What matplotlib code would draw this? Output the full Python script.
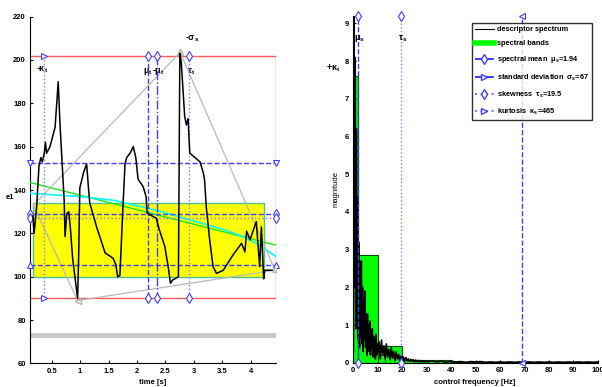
import numpy as np
import matplotlib.pyplot as plt
from matplotlib.patches import Rectangle
from matplotlib.lines import Line2D

plt.rcParams['font.family'] = ['Liberation Sans', 'DejaVu Sans']
plt.rcParams['font.weight'] = 'bold'
plt.rcParams['mathtext.default'] = 'regular'

# control signal (time [s], value)
sig_t = [0.17, 0.19, 0.235, 0.276, 0.31, 0.335, 0.37, 0.39, 0.41, 0.47, 0.56, 0.615,
         0.645, 0.72, 0.735, 0.765, 0.80, 0.83, 0.87, 0.956, 0.975, 0.995, 1.06, 1.115,
         1.15, 1.17, 1.29, 1.44, 1.58, 1.63, 1.66, 1.70, 1.75, 1.79, 1.82, 1.88, 1.935,
         1.98, 2.02, 2.11, 2.16, 2.18, 2.29, 2.34, 2.39, 2.49, 2.55, 2.59, 2.63, 2.70,
         2.73, 2.755, 2.78, 2.84, 2.87, 2.90, 2.93, 3.02, 3.11, 3.17, 3.19, 3.22, 3.28,
         3.34, 3.40, 3.52, 3.69, 3.84, 3.90, 3.93, 3.99, 4.05, 4.10, 4.13, 4.16, 4.19,
         4.23, 4.25, 4.43]
sig_v = [128, 120, 132, 151, 155, 153, 157, 162, 157, 160, 169, 190,
         171, 135, 118.5, 129, 130, 122, 108, 90, 110, 141, 148, 152,
         140, 134, 123, 111, 108.5, 105.5, 100, 100.5, 130, 152, 155, 157, 160,
         155, 145, 141.5, 137, 129.3, 127.7, 127, 122, 114, 104.6, 97, 98.5, 99.5,
         100, 203, 199, 174, 170, 173, 157, 155, 153, 147.7, 144.6, 132.3, 117,
         104.6, 101.5, 103, 110, 115.4, 111.5, 121, 117, 121.6, 125.4, 115, 104.6, 123,
         99, 103, 103]

# envelope (gray) and fitted trends
env_t = [0.18, 2.76, 4.43, 0.956, 0.18]
env_v = [133, 203.5, 103, 89, 133]
lin_t = [0.118, 4.44]
lin_v = [143.5, 114.6]
quad_t = [0.118, 1.0, 1.6, 2.36, 2.93, 3.5, 3.87, 4.10, 4.44]
quad_v = [138.5, 137, 135.2, 130.5, 126.2, 122, 118.5, 115.4, 109.5]

# temporal moments
kappa_t = 0.37
mu_t = 2.20
sigma_t = 2.36
tau_t = 2.92
h_upper = 152.5
h_mean = 128.8
h_mean2 = 127.0
h_lower = 105.3

# descriptor spectrum (magnitude) on three frequency grids
spec_a = [0.3, 9.2, 2.0, 8.1, 0.9, 6.2, 1.5, 4.4, 0.6, 3.2, 0.4, 2.2, 0.7, 2.7, 0.5, 2.0,
          0.3, 1.6, 0.6, 1.9, 0.4, 1.2, 0.2, 1.3, 0.5, 1.0, 0.3, 1.1, 0.2, 0.8, 0.4, 0.9,
          0.15, 0.7, 0.3, 0.6, 0.1, 0.75, 0.2, 0.5, 0.3]          # 0..10 Hz, 0.25 Hz
spec_b = [0.55, 0.1, 0.6, 0.2, 0.45, 0.1, 0.5, 0.15, 0.35, 0.08, 0.4, 0.12, 0.3, 0.05,
          0.28, 0.1, 0.22, 0.06, 0.18, 0.05, 0.15, 0.04, 0.14, 0.05, 0.1, 0.03, 0.09,
          0.04, 0.08, 0.02, 0.07, 0.03, 0.06, 0.02, 0.06, 0.02, 0.05, 0.02, 0.05, 0.02]  # 10.5..30 Hz
spec_c = [0.05, 0.02, 0.04, 0.01, 0.04, 0.02, 0.03, 0.01, 0.03, 0.02, 0.03, 0.01, 0.02,
          0.01, 0.02, 0.01, 0.02, 0.01, 0.02, 0.01, 0.02, 0.01, 0.02, 0.01, 0.02, 0.01,
          0.02, 0.01, 0.02, 0.01, 0.02, 0.01, 0.02, 0.01, 0.02]     # 32..100 Hz
freq = np.concatenate([np.arange(0, 10.01, 0.25), np.arange(10.5, 30.01, 0.5),
                       np.arange(32, 100.01, 2)])
spec = np.array(spec_a + spec_b + spec_c)

band_lo = [0, 2, 10, 13, 20, 40]
band_hi = [2, 10, 13, 20, 40, 100]
band_mag = [7.6, 2.87, 0.2, 0.45, 0.08, 0.03]

mu_s = 1.94
sigma_s = 69
tau_s = 19.5

blue = (0.25, 0.25, 1.0)
lblue = (0.5, 0.5, 1.0)
red = (1.0, 0.35, 0.35)
fs = 5.5

fig = plt.figure(figsize=(6.02, 3.87), dpi=100)
ax1 = fig.add_axes([0.0498, 0.061, 0.408, 0.896])
ax2 = fig.add_axes([0.587, 0.0628, 0.406, 0.896])

# ---- left panel ----
x0, x1 = 0.118, 4.44
ax1.add_patch(Rectangle((0.176, 100), 4.24 - 0.176, 134 - 100, facecolor='yellow',
                        edgecolor=(0.3, 0.75, 0.6), lw=1, zorder=1))
ax1.plot([x0, x1], [73, 73], color=(0.78, 0.78, 0.78), lw=3.5, zorder=1)
ax1.plot([x0, x1, x1, x0], [202, 202, 90.3, 90.3], color=red, lw=1, zorder=2)

ax1.plot(lin_t, lin_v, color=(0.1, 0.9, 0.1), lw=1, zorder=3)
ax1.plot(quad_t, quad_v, color='cyan', lw=1.2, zorder=3)
ax1.plot(env_t, env_v, color=(0.72, 0.72, 0.72), lw=0.9, zorder=3)
ax1.plot([2.76], [203.5], '^', ms=4, mfc='none', mec=(0.7, 0.7, 0.7), zorder=3)
ax1.plot([0.956], [89], '<', ms=4, mfc='none', mec=(0.7, 0.7, 0.7), zorder=3)
ax1.plot([4.43], [103], 's', ms=3.5, mfc=(0.85, 0.85, 0.85), mec=(0.7, 0.7, 0.7), zorder=6)

mk = dict(mfc='white', mec=blue, mew=0.8, ms=5, clip_on=False, zorder=5)
for y, m, ls, c in [(h_upper, 'v', '--', blue), (h_mean, 'd', '--', blue),
                    (h_mean2, 'd', ':', lblue), (h_lower, '^', '--', blue)]:
    ax1.plot([x0, x1], [y, y], ls=ls, color=c, lw=1, zorder=4)
    ax1.plot([x0, x1], [y, y], m, ls='none', **mk)
for x, m, ls, c in [(kappa_t, '>', ':', lblue), (mu_t, 'd', '--', blue),
                    (sigma_t, 'd', '-.', blue), (tau_t, 'd', ':', lblue)]:
    ax1.plot([x, x], [202, 90.3], ls=ls, color=c, lw=1, zorder=4)
    ax1.plot([x, x], [202, 90.3], m, ls='none', **mk)

ax1.plot(sig_t, sig_v, color='black', lw=1.1, zorder=5)

tk = dict(fontsize=6.5, ha='center', va='center', clip_on=False)
ax1.text(0.33, 195.4, r'-$\kappa_t$', **tk)
ax1.text(5.45, 196.3, r'+$\kappa_t$', **tk)
ax1.text(mu_t, 194.6, r'$\mu_t$', **tk)
ax1.text(sigma_t + 0.02, 194.6, r'-$\mu_t$', **tk)
ax1.text(tau_t + 0.03, 194.6, r'$\tau_t$', **tk)
ax1.text(2.97, 209.7, r'-$\sigma_s$', **tk)

ax1.set_xlim(x0, x1)
ax1.set_ylim(60, 220)
ax1.set_xticks([0.5, 1, 1.5, 2, 2.5, 3, 3.5, 4])
ax1.set_xticklabels(['0.5', '1', '1.5', '2', '2.5', '3', '3.5', '4'])
ax1.set_yticks(range(60, 221, 20))
fig.text(0.253, 0.011, 'time [s]', fontsize=fs, ha='center', va='center')
fig.text(0.017, 0.49, 'e1', fontsize=fs, ha='center', va='center')

# ---- right panel ----
ax2.bar(band_lo, np.array(band_mag), width=np.array(band_hi) - np.array(band_lo),
        align='edge', color=(0, 1, 0), edgecolor=(0, 0.3, 0), lw=0.8, zorder=1)
ax2.plot(freq, spec, color='black', lw=1.2, zorder=2)

top = 9.2
mk2 = dict(mfc='white', mec=blue, mew=0.8, ms=5, clip_on=False, zorder=5)
ax2.plot([mu_s, mu_s], [0, top], '--', color=blue, lw=1, zorder=3)
ax2.plot([mu_s, mu_s], [0, top], 'd', ls='none', **mk2)
ax2.plot([tau_s, tau_s], [0, top], ':', color=lblue, lw=1, zorder=3)
ax2.plot([tau_s, tau_s], [0, top], 'd', ls='none', **mk2)
ax2.plot([sigma_s, sigma_s], [0, top], '--', color=blue, lw=1, zorder=3)
ax2.plot([sigma_s, sigma_s], [0, top], '<', ls='none', **mk2)
ax2.text(mu_s + 0.6, 8.6, r'$\mu_s$', **tk)
ax2.text(tau_s + 0.6, 8.6, r'$\tau_s$', **tk)

ax2.set_xlim(0, 100)
ax2.set_ylim(0, top)
ax2.set_xticks(range(0, 101, 10))
ax2.set_yticks(range(0, 10))
fig.text(0.789, 0.011, 'control frequency [Hz]', fontsize=fs, ha='center', va='center')
ax2.set_ylabel('magnitude', fontsize=fs, labelpad=4)

handles = [Line2D([], [], color='black', lw=0.8),
           Line2D([], [], color=(0, 1, 0), lw=4),
           Line2D([], [], color=blue, ls='--', marker='d', mfc='white', mec=blue, ms=5),
           Line2D([], [], color=blue, ls='--', marker='>', mfc='white', mec=blue, ms=5),
           Line2D([], [], color=lblue, ls=':', marker='d', mfc='white', mec=blue, ms=5),
           Line2D([], [], color=lblue, ls=':', marker='>', mfc='white', mec=blue, ms=5)]
labels = ['descriptor spectrum', 'spectral bands',
          r'spectral mean  $\mu_s$=1.94', r'standard deviation  $\sigma_s$=67',
          r'skewness  $\tau_s$=19.5', r'kurtosis  $\kappa_s$=465']
leg = ax2.legend(handles, labels, loc='upper right', bbox_to_anchor=(0.983, 0.94),
                 bbox_transform=fig.transFigure, fontsize=5.3, frameon=True,
                 fancybox=False, edgecolor='black', handlelength=2.6, handletextpad=0.4,
                 labelspacing=0.95, borderpad=0.4, borderaxespad=0)
leg.get_frame().set_linewidth(1.0)
leg.set_zorder(10)

for ax in (ax1, ax2):
    ax.spines['top'].set_visible(False)
    ax.spines['right'].set_visible(False)
    ax.tick_params(direction='in', length=2, width=0.8, labelsize=fs, pad=3)

fig.savefig('out.png', dpi=100)
